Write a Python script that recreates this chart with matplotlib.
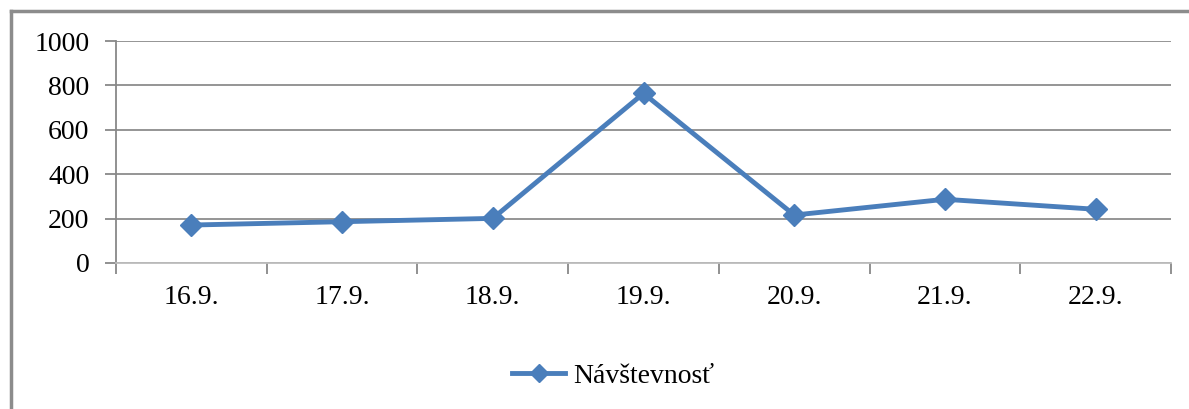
import matplotlib.pyplot as plt
from matplotlib.lines import Line2D

# data
days = ["16.9.", "17.9.", "18.9.", "19.9.", "20.9.", "21.9.", "22.9."]
visits = [171, 186, 201, 764, 216, 287, 242]

plt.rcParams['font.family'] = ['Liberation Serif', 'DejaVu Serif']

fig = plt.figure(figsize=(11.89, 4.09), dpi=100)
ax = fig.add_axes([116 / 1189, 1 - 263 / 409, (1171 - 116) / 1189, (263 - 41) / 409])

x = range(len(days))
ax.plot(x, visits, color="#4a7ebb", linewidth=3.5, marker="D", markersize=11,
        label="Návštevnosť", zorder=3)

ax.set_xlim(-0.5, len(days) - 0.5)
ax.set_ylim(0, 1000)
ax.set_yticks(range(0, 1001, 200))
ax.set_xticks(list(x))
ax.set_xticklabels(days)
ax.set_xticks([i - 0.5 for i in range(len(days) + 1)], minor=True)

ax.grid(axis="y", color="#8c8c8c", linewidth=1.3)
ax.set_axisbelow(True)

for s in ["top", "right"]:
    ax.spines[s].set_visible(False)
ax.spines["left"].set_color("#888888")
ax.spines["bottom"].set_color("#bdbdbd")
ax.spines["left"].set_linewidth(1.3)
ax.spines["bottom"].set_linewidth(1.3)

ax.tick_params(axis="y", length=8, color="#888888", width=1.3, labelsize=20, pad=11)
ax.tick_params(axis="x", which="major", length=0, labelsize=20, pad=16)
ax.tick_params(axis="x", which="minor", length=8, color="#888888", width=1.3)

fig.legend(loc="center", bbox_to_anchor=(0.516, 1 - 376 / 409), frameon=False,
           fontsize=20, handlelength=1.9, handletextpad=0.3, markerscale=0.85)

# outer frame (left and top only visible)
fig.add_artist(Line2D([11 / 1189, 11 / 1189], [0, 1 - 11 / 409], transform=fig.transFigure,
                      color="#8c8c8c", linewidth=2.5))
fig.add_artist(Line2D([11 / 1189, 1], [1 - 11 / 409, 1 - 11 / 409], transform=fig.transFigure,
                      color="#8c8c8c", linewidth=2.5))

fig.savefig("out.png", dpi=100)
